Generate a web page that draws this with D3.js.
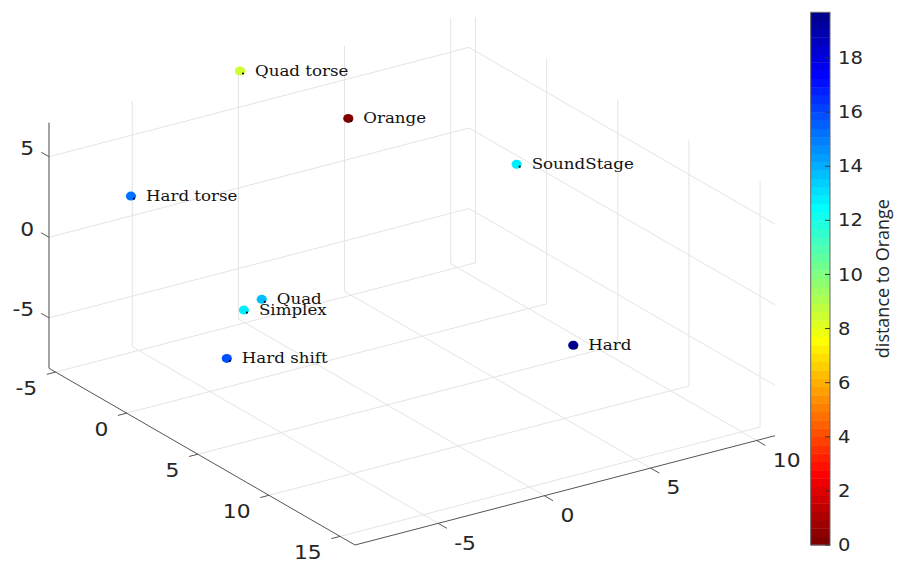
<!DOCTYPE html>
<html>
<head>
<meta charset="utf-8">
<script src="https://cdn.jsdelivr.net/npm/d3@7"></script>
<style>
  body { margin: 0; background: #fff; }
</style>
</head>
<body>
<svg id="chart" width="897" height="561"></svg>
<script>
// data
var names = ["Quad torse", "Orange", "SoundStage", "Hard torse", "Quad", "Simplex", "Hard shift", "Hard"];
var xVals = [0.07, 3.70, 10.86, -7.74, -4.26, -4.43, -2.59, 1.36];
var yVals = [-5.45, -3.26, -2.11, -1.46, 2.54, 1.54, -2.41, 16.05];
var zVals = [7.24, 4.17, -0.54, 4.19, -1.37, -2.49, -8.13, 0.74];
var distVals = [8.4, 0, 12.9, 15.1, 13.8, 12.8, 15.9, 19.69];

var xTicks = [-5, 0, 5, 10];
var yTicks = [-5, 0, 5, 10, 15];
var zTicks = [-5, 0, 5];
var cTicks = [0, 2, 4, 6, 8, 10, 12, 14, 16, 18];

var xLim = [-8.92, 10.86];
var yLim = [-5.46, 16.05];
var zLim = [-8.13, 7.11];
var cLim = [0, 19.69];

var svg = d3.select("#chart");
var ink = "#262626";
var gridColor = "#e4e4e4";

// box layout on screen
var origin = [49, 368.3];
var xEdge = [420, -109.3];
var yEdge = [306, 176.7];
var zEdge = [0, -245.6];

var fx = d3.scaleLinear().domain(xLim).range([0, 1]);
var fy = d3.scaleLinear().domain(yLim).range([0, 1]);
var fz = d3.scaleLinear().domain(zLim).range([0, 1]);

function proj(x, y, z) {
  var u = fx(x), v = fy(y), w = fz(z);
  return [origin[0] + u * xEdge[0] + v * yEdge[0] + w * zEdge[0],
          origin[1] + u * xEdge[1] + v * yEdge[1] + w * zEdge[1]];
}
function unit(v) { var l = Math.hypot(v[0], v[1]); return [v[0] / l, v[1] / l]; }
var xDir = unit(xEdge), yDir = unit(yEdge);

// jet(64), flipped like the figure
function jet(m) {
  var n = Math.ceil(m / 4);
  var u = d3.range(1, n + 1).map(d => d / n)
    .concat(d3.range(n - 1).map(() => 1))
    .concat(d3.range(n, 0, -1).map(d => d / n));
  var J = d3.range(m).map(() => [0, 0, 0]);
  var g0 = Math.ceil(n / 2) - (m % 4 == 1 ? 1 : 0);
  u.forEach((val, k) => {
    var g = g0 + k + 1, r = g + n, b = g - n;
    if (r >= 1 && r <= m) J[r - 1][0] = val;
    if (g >= 1 && g <= m) J[g - 1][1] = val;
    if (b >= 1 && b <= m) J[b - 1][2] = val;
  });
  return J.map(c => d3.rgb(c[0] * 255, c[1] * 255, c[2] * 255).formatHex());
}
var cmap = jet(64).reverse();
function colorOf(v) {
  var idx = Math.floor((v - cLim[0]) / (cLim[1] - cLim[0]) * cmap.length);
  idx = Math.max(0, Math.min(cmap.length - 1, idx));
  return cmap[idx];
}

function seg(g, p, q, color, width) {
  g.append("line")
    .attr("x1", p[0]).attr("y1", p[1])
    .attr("x2", q[0]).attr("y2", q[1])
    .attr("stroke", color)
    .attr("stroke-width", width);
}

// grid on the back walls and the floor
var grid = svg.append("g");
var x0 = xLim[0], x1 = xLim[1], y0 = yLim[0], y1 = yLim[1], z0 = zLim[0], z1 = zLim[1];
xTicks.forEach(x => {
  seg(grid, proj(x, y0, z0), proj(x, y0, z1), gridColor, 1);
  seg(grid, proj(x, y0, z0), proj(x, y1, z0), gridColor, 1);
});
yTicks.forEach(y => {
  seg(grid, proj(x1, y, z0), proj(x1, y, z1), gridColor, 1);
  seg(grid, proj(x0, y, z0), proj(x1, y, z0), gridColor, 1);
});
zTicks.forEach(z => {
  seg(grid, proj(x0, y0, z), proj(x1, y0, z), gridColor, 1);
  seg(grid, proj(x1, y0, z), proj(x1, y1, z), gridColor, 1);
});

// axes
var axes = svg.append("g");
seg(axes, proj(x0, y0, z0), proj(x0, y0, z1), "#8c8c8c", 1.6);
seg(axes, proj(x0, y0, z0), proj(x0, y1, z0), "#555", 1);
seg(axes, proj(x0, y1, z0), proj(x1, y1, z0), "#555", 1);

function tickLabel(g, pos, txt, anchor, size) {
  g.append("text")
    .attr("transform", `translate(${pos[0]},${pos[1]}) scale(1.15,1)`)
    .attr("text-anchor", anchor)
    .attr("dy", "0.36em")
    .attr("font-family", "DejaVu Sans, sans-serif")
    .attr("font-size", size)
    .attr("fill", ink)
    .text(txt);
}

zTicks.forEach(z => {
  var p = proj(x0, y0, z);
  seg(axes, p, [p[0] - yDir[0] * 9, p[1] - yDir[1] * 9], "#555", 1);
  tickLabel(axes, [p[0] - yDir[0] * 17, p[1] - yDir[1] * 17], z, "end", 19);
});
yTicks.forEach(y => {
  var p = proj(x0, y, z0);
  seg(axes, p, [p[0] - xDir[0] * 9, p[1] - xDir[1] * 9], "#555", 1);
  tickLabel(axes, [p[0] - 18.3, p[1] + 16], y, "end", 19);
});
xTicks.forEach(x => {
  var p = proj(x, y1, z0);
  seg(axes, p, [p[0] + yDir[0] * 10, p[1] + yDir[1] * 10], "#555", 1);
  tickLabel(axes, [p[0] + 16, p[1] + 19.5], x, "start", 19);
});

// points
var pts = names.map((n, i) => ({ name: n, p: proj(xVals[i], yVals[i], zVals[i]), d: distVals[i] }));
var marks = svg.append("g");
marks.selectAll("ellipse.pt").data(pts).enter()
  .append("ellipse")
  .attr("class", "pt")
  .attr("cx", d => d.p[0])
  .attr("cy", d => d.p[1])
  .attr("rx", 5.1)
  .attr("ry", 4.5)
  .attr("fill", d => colorOf(d.d));
marks.selectAll("circle.dot").data(pts).enter()
  .append("circle")
  .attr("class", "dot")
  .attr("cx", d => d.p[0] + 3)
  .attr("cy", d => d.p[1] + 2.5)
  .attr("r", 1.1)
  .attr("fill", "#000");
marks.selectAll("text").data(pts).enter()
  .append("text")
  .attr("transform", d => `translate(${d.p[0] + 15},${d.p[1] + 4.5}) scale(1.15,1)`)
  .attr("font-family", "DejaVu Serif, serif")
  .attr("font-size", 14.5)
  .attr("fill", "#111")
  .text(d => d.name);

// colorbar
var cbX = 810.7, cbW = 19.3;
var cScale = d3.scaleLinear().domain(cLim).range([545, 12.3]);
var cb = svg.append("g");
var band = (cScale(cLim[0]) - cScale(cLim[1])) / cmap.length;
cb.selectAll("rect.band").data(cmap).enter()
  .append("rect")
  .attr("class", "band")
  .attr("x", cbX)
  .attr("y", (c, i) => cScale(cLim[0]) - (i + 1) * band)
  .attr("width", cbW)
  .attr("height", band + 0.4)
  .attr("fill", c => c);
cb.append("rect")
  .attr("x", cbX).attr("y", cScale(cLim[1]))
  .attr("width", cbW).attr("height", cScale(cLim[0]) - cScale(cLim[1]))
  .attr("fill", "none").attr("stroke", "#666").attr("stroke-width", 1);
cTicks.forEach(t => {
  var y = cScale(t);
  seg(cb, [cbX + cbW, y], [cbX + cbW - 5, y], "#333", 1);
  tickLabel(cb, [cbX + cbW + 8, y], t, "start", 17);
});
cb.append("text")
  .attr("transform", `translate(889,${(cScale(cLim[0]) + cScale(cLim[1])) / 2}) rotate(-90)`)
  .attr("text-anchor", "middle")
  .attr("font-family", "Open Sans, sans-serif")
  .attr("font-size", 18)
  .attr("textLength", 159)
  .attr("lengthAdjust", "spacingAndGlyphs")
  .attr("fill", ink)
  .text("distance to Orange");
</script>
</body>
</html>
